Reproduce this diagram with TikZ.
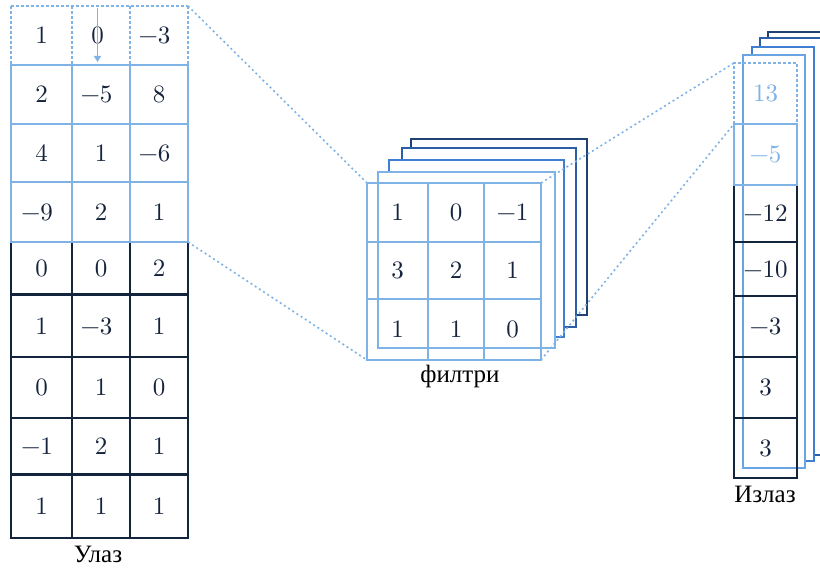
\documentclass[tikz,border=0pt]{standalone}
\usepackage{fontspec}
\newfontfamily\labelfont{Liberation Serif}
\newfontfamily\numfont{lmroman10-regular}[Extension=.otf]
\usetikzlibrary{arrows.meta}
\definecolor{gridblue}{HTML}{7FB2E5}
\definecolor{navy}{HTML}{13253D}
\definecolor{ink}{HTML}{15243C}
\definecolor{stackA}{HTML}{6AA5E3}
\definecolor{stackB}{HTML}{3F7ED2}
\definecolor{stackC}{HTML}{2C5EA6}
\definecolor{stackD}{HTML}{1F4273}
% plain value, and a negative value set slightly left of centre
\newcommand\nv[1]{#1}
\newcommand\nn[1]{−#1\hspace*{9pt}}

\begin{document}
\begin{tikzpicture}[x=1pt,y=-1pt,
  num/.style={text=ink, font=\numfont\fontsize{25}{29}\selectfont, inner sep=0pt, outer sep=0pt, anchor=north west},
  navycell/.style={num, draw=navy, line width=1.8pt},
  bluecell/.style={num, draw=gridblue, line width=1.8pt},
  opencell/.style={num},
  dotline/.style={draw=gridblue, line width=1.6pt, dash pattern=on 3pt off 2pt},
  guide/.style={draw=gridblue, line width=1.6pt, dash pattern=on 2pt off 3pt},
  stacklayer/.style={line width=1.8pt, fill=white},
  caption/.style={font=\labelfont\fontsize{25}{29}\selectfont, text=black, inner sep=0pt, anchor=base}
]
\useasboundingbox (0,0) rectangle (820,572);
\clip (0,0) rectangle (820,572);

% ---------- input column ----------
\foreach \r/\t/\h/\a/\b/\c in {5/242/53/{\nv{0}}/{\nv{0}}/{\nv{2}},
                               6/295/62/{\nv{1}}/{\nn{3}}/{\nv{1}},
                               7/357/61/{\nv{0}}/{\nv{1}}/{\nv{0}},
                               8/418/56/{\nn{1}}/{\nv{2}}/{\nv{1}},
                               9/474/64/{\nv{1}}/{\nv{1}}/{\nv{1}}}{
  \foreach \cx/\cw/\v [count=\k] in {11/61/\a, 72/58/\b, 130/58/\c}{
    \node[navycell, minimum width=\cw pt, minimum height=\h pt] (in-\r-\k) at (\cx,\t) {\v};
  }
}
\draw[navy, line width=3pt] (in-6-1.north west) -- (in-6-3.north east);
\draw[navy, line width=3pt] (in-9-1.north west) -- (in-9-3.north east);

\foreach \r/\t/\h/\a/\b/\c in {2/65/59/{\nv{2}}/{\nn{5}}/{\nv{8}},
                               3/124/58/{\nv{4}}/{\nv{1}}/{\nn{6}},
                               4/182/60/{\nn{9}}/{\nv{2}}/{\nv{1}}}{
  \foreach \cx/\cw/\v [count=\k] in {11/61/\a, 72/58/\b, 130/58/\c}{
    \node[bluecell, minimum width=\cw pt, minimum height=\h pt] (in-\r-\k) at (\cx,\t) {\v};
  }
}

\foreach \cx/\cw/\v [count=\k] in {11/61/{\nv{1}}, 72/58/{\hspace*{-7pt}\nv{0}}, 130/58/{\nn{3}}}{
  \node[opencell, minimum width=\cw pt, minimum height=59pt] (in-1-\k) at (\cx,6) {\v};
}
\draw[dotline] (in-1-1.north west) -- (in-1-3.north east);
\draw[dotline] (in-1-1.north west) -- (in-1-1.south west);
\draw[dotline] (in-1-2.north west) -- (in-1-2.south west);
\draw[dotline] (in-1-3.north west) -- (in-1-3.south west);
\draw[dotline] (in-1-3.north east) -- (in-1-3.south east);

% sliding direction of the window
\draw[gridblue, line width=1.4pt, -{Triangle[length=6pt,width=7pt]}]
  ([xshift=-3.5pt,yshift=-2pt]in-1-2.north) -- ([xshift=-3.5pt,yshift=3pt]in-1-2.south);

\node[caption] (in-label) at (98,562) {Улаз};

% ---------- filter stack ----------
\draw[stacklayer, draw=stackD] (411,139) rectangle (587,315);
\draw[stacklayer, draw=stackC] (402,148) rectangle (576,327);
\draw[stacklayer, draw=stackB] (389,160) rectangle (564,337);
\draw[stacklayer, draw=gridblue] (378,172) rectangle (555,348);

% ---------- output stack ----------
\draw[stacklayer, draw=stackD] (768,32) rectangle (831,450);
\draw[stacklayer, draw=stackC] (760,38) rectangle (822,455);
\draw[stacklayer, draw=stackB] (752,47) rectangle (814,461);
\draw[stacklayer, draw=stackA] (743,55) rectangle (805,468);

\foreach \r/\t/\h/\v in {3/185/57/−12, 4/242/54/−10, 5/296/61/−3, 6/357/61/3, 7/418/60/3}{
  \node[navycell, minimum width=63pt, minimum height=\h pt] (out-\r) at (734,\t) {\v};
}
\node[bluecell, text=gridblue, minimum width=63pt, minimum height=61pt] (out-2) at (734,124) {−5};
\node[opencell, text=gridblue, minimum width=63pt, minimum height=61pt] (out-1) at (734,63) {13};
\draw[dotline] (out-1.south west) -- (out-1.north west) -- (out-1.north east) -- (out-1.south east);

\node[caption] (out-label) at (765,502) {Излаз};

% ---------- front filter ----------
\foreach \r/\t/\h/\a/\b/\c in {1/183/59/1/0/−1, 2/242/57/3/2/1, 3/299/61/1/1/0}{
  \foreach \cx/\cw/\v [count=\k] in {367/61/\a, 428/56/\b, 484/57/\c}{
    \node[bluecell, minimum width=\cw pt, minimum height=\h pt] (filt-\r-\k) at (\cx,\t) {\v};
  }
}
\node[caption] (filt-label) at (460,382) {филтри};

% ---------- receptive-field guides ----------
\draw[guide] (in-1-3.north east) -- (filt-1-1.north west);
\draw[guide] (in-4-3.south east) -- (filt-3-1.south west);
\draw[guide] (filt-1-3.north east) -- (out-1.north west);
\draw[guide] (filt-3-3.south east) -- (out-1.south west);
\end{tikzpicture}
\end{document}
